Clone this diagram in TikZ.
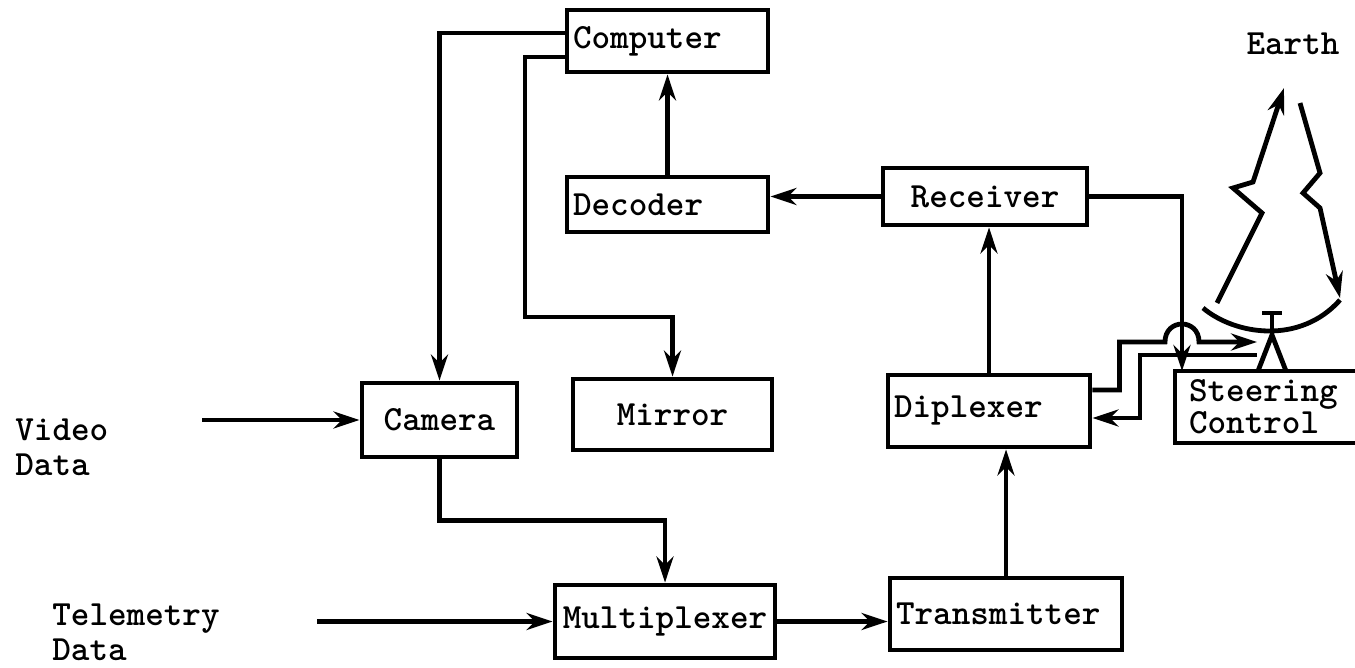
\documentclass[tikz,border=0pt]{standalone}
\usepackage{fontspec}
\usetikzlibrary{arrows.meta,positioning}

\begin{document}
\begin{tikzpicture}[
    x=0.5pt, y=-0.5pt,
    >={Stealth[length=13pt,width=8.5pt]},
    line width=2.4pt,
    font=\ttfamily\bfseries\fontsize{17.7pt}{17.5pt}\selectfont,
    block/.style={draw, rectangle, inner sep=3pt, align=center},
    lblock/.style={block, align=left},
    note/.style={align=left, inner sep=0pt},
    sig/.style={->}
]
\useasboundingbox (0,0) rectangle (1355,668);

% units and blocks
\node[lblock, text width=94.5pt, minimum height=31pt] (comp) at (667.5,41) {Computer};
\node[lblock, text width=94.5pt, minimum height=27.5pt] (dec) at (667.5,204.5) {Decoder};
\node[block, minimum width=102pt, minimum height=28.5pt] (rec) at (985,196.5) {Receiver};
\node[block, minimum width=77.5pt, minimum height=37pt] (cam) at (439.5,420) {Camera};
\node[block, minimum width=99.5pt, minimum height=35.5pt] (mir) at (672.5,414.5) {Mirror};
\node[lblock, text width=95pt, minimum height=36pt] (dip) at (989,411) {\raisebox{-5pt}{Diplexer}};
\node[lblock, inner xsep=7pt, text width=79.5pt, minimum height=36pt,
    font=\ttfamily\bfseries\fontsize{17.7pt}{12.5pt}\selectfont] (stc) at (1268.5,407) {Steering\\Control};
\node[block, minimum width=110pt, minimum height=36.5pt] (mux) at (665,621.5) {Multiplexer};
\node[lblock, text width=110pt, minimum height=36pt] (tra) at (1006,614) {Transmitter};

% inputs and the far end
\node[note, anchor=west] (vid) at (13,447) {Video\\Data};
\node[note, anchor=west] (tel) at (50,632) {Telemetry\\Data};
\node (earth) at (1293,44) {Earth};

\coordinate (vin) at (202,420);
\coordinate (tin) at (317,621.5);
\coordinate (bend) at (525,317);
\coordinate (stin) at (1182,371);
\coordinate (hopl) at (1165,342);
\coordinate (hopr) at (1199,342);
\coordinate (feedin) at (1257,342);
\coordinate (feedout) at (1257,355);

% signal paths
\draw[sig] (vin) -- (cam.west);
\draw[sig] (tin) -- (mux.west);
\draw[sig] (cam.south) -- ++(0,61) -| (mux.north);
\draw[sig] (mux.east) -- (mux.east -| tra.west);
\draw[sig] (tra.north) -- (tra.north |- dip.south);
\draw[sig] (dip.north) -- (dip.north |- rec.south);
\draw[sig] (rec.west) -- (rec.west -| dec.east);
\draw[sig] (dec.north) -- (comp.south);
\draw[sig] ([yshift=4pt]comp.west) -| (cam.north);
\draw[sig] ([yshift=-8pt]comp.west) -| (bend) -| (mir.north);
\draw[sig] (rec.east) -| (stin);
\draw[sig] ([yshift=10.5pt]dip.east) -- ++(27,0) |- (hopl)
    .. controls +(0,-24) and +(0,-24) .. (hopr) -- (feedin);
\draw[sig] (feedout) -- ++(-117,0) |- ([yshift=-3.5pt]dip.east);

% dish on its mount
\draw (1203,308) .. controls (1235,335) and (1300,345) .. (1340,300);
\draw (1262,313) -- (1282,313);
\draw (1272,313) -- (1272,335);
\draw (1258,371) -- (1272,335) -- (1286,371);

% up and down links
\draw[->] (1217,303) -- (1262,213) -- (1233,188) -- (1253,182) -- (1284,88);
\draw[->] (1300,103) -- (1320,173) -- (1303,193) -- (1320,208) -- (1340,298);
\end{tikzpicture}
\end{document}
